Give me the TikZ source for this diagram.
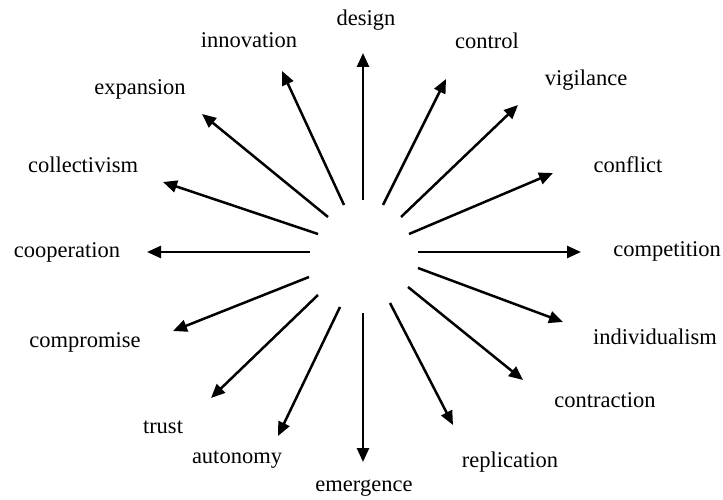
\documentclass[tikz,border=0pt]{standalone}
\usepackage{fontspec}
\setmainfont{Liberation Serif}
\usetikzlibrary{arrows.meta}
\begin{document}
\begin{tikzpicture}[x=1pt,y=-1pt,font=\fontsize{22.5}{27}\selectfont]
      \useasboundingbox (0,0) rectangle (723,500);
      \draw
        (366,20) node (design){design}
        (487,41) node (control){control}
        (586,80) node (vigilance){vigilance}
        (628,165) node (conflict){conflict}
        (667,251) node (competition){competition}
        (655,337) node (individualism){individualism}
        (605,400) node (contraction){contraction}
        (510,462) node (replication){replication}
        (364,488) node (emergence){emergence}
        (237,460) node (autonomy){autonomy}
        (163,427) node (trust){trust}
        (85,342) node (compromise){compromise}
        (67,252) node (cooperation){cooperation}
        (83,165) node (collectivism){collectivism}
        (140,89) node (expansion){expansion}
        (249,40) node (innovation){innovation};
      \draw
        (363,200) coordinate (s0) (363,53) coordinate (t0)
        (383,205) coordinate (s1) (446,79) coordinate (t1)
        (401,217) coordinate (s2) (518,105) coordinate (t2)
        (409,234) coordinate (s3) (553,173) coordinate (t3)
        (418,252) coordinate (s4) (581,252) coordinate (t4)
        (418,268) coordinate (s5) (563,322) coordinate (t5)
        (408,287) coordinate (s6) (523,380) coordinate (t6)
        (390,303) coordinate (s7) (453,425) coordinate (t7)
        (363,313) coordinate (s8) (363,462) coordinate (t8)
        (340,307) coordinate (s9) (278,436) coordinate (t9)
        (318,295) coordinate (s10) (211,398) coordinate (t10)
        (309,277) coordinate (s11) (173,331) coordinate (t11)
        (310,252) coordinate (s12) (147,252) coordinate (t12)
        (318,234) coordinate (s13) (163,182) coordinate (t13)
        (328,217) coordinate (s14) (202,114) coordinate (t14)
        (344,205) coordinate (s15) (282,71) coordinate (t15);
      \begin{scope}[-{Triangle[length=14pt,width=12pt]}, line width=2.5pt]
        \draw (s0) to (t0);
        \draw (s1) to (t1);
        \draw (s2) to (t2);
        \draw (s3) to (t3);
        \draw (s4) to (t4);
        \draw (s5) to (t5);
        \draw (s6) to (t6);
        \draw (s7) to (t7);
        \draw (s8) to (t8);
        \draw (s9) to (t9);
        \draw (s10) to (t10);
        \draw (s11) to (t11);
        \draw (s12) to (t12);
        \draw (s13) to (t13);
        \draw (s14) to (t14);
        \draw (s15) to (t15);
      \end{scope}
    \end{tikzpicture}
\end{document}
